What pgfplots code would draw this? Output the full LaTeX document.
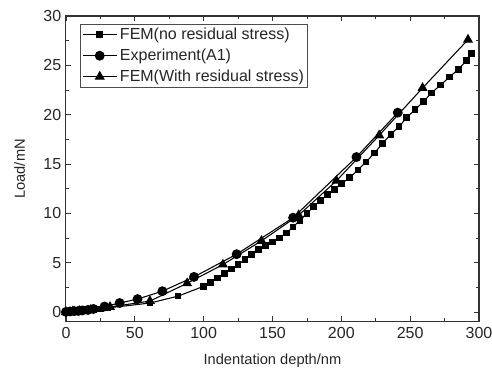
\documentclass[border=0pt]{standalone}
\usepackage{pgfplots}
\pgfplotsset{compat=1.18}
\usepackage{fontspec}
\setmainfont{Liberation Sans}
\begin{document}
\begin{tikzpicture}
\begin{axis}[
  scale only axis,
  at={(0,0)}, anchor=south west,
  width=310pt, height=229.5pt,
  xmin=0, xmax=300, ymin=-1, ymax=30,
  xtick={0,50,...,300}, ytick={0,5,...,30},
  minor x tick num=1, minor y tick num=1,
  major tick length=4pt, minor tick length=2.5pt,
  tick align=inside,
  /pgf/number format/assume math mode=true,
  ticklabel style={font=\fontsize{12}{14}\selectfont, text=black!85},
  xticklabel style={yshift=-1pt},
  xlabel={Indentation depth/nm}, ylabel={Load/mN},
  label style={font=\fontsize{11}{13}\selectfont, text=black!85},
  xlabel style={yshift=-4pt},
  ylabel style={yshift=7pt},
  axis line style={black!80, line width=0.8pt},
  every tick/.style={black!80, line width=0.6pt},
  legend style={at={(0.035,0.975)}, anchor=north west, draw=black!70, line width=0.6pt,
    font=\fontsize{12}{14}\selectfont, row sep=1.5pt, inner sep=1pt, text=black!85},
  legend cell align=left,
  legend image code/.code={\draw[mark repeat=2,mark phase=2,#1] plot coordinates {(0cm,0cm) (0.45cm,0cm) (0.9cm,0cm)};},
]
\addplot[black, line width=0.8pt, mark=square*, mark size=2.1pt] coordinates {
(0,0) (2,0.02) (4,0.04) (6,0.06) (8,0.08) (10,0.1) (13,0.13) (16,0.17) (20,0.22) (25,0.3) (30,0.4)
(61,0.9) (81.5,1.6) (100,2.6) (105,3.0) (110,3.45) (115,3.9) (120,4.35) (125,4.8) (130,5.3)
(135,5.8) (140,6.3) (145,6.7) (150,7.1) (155,7.5) (160,8.0) (165,8.6) (170,9.3) (175,10.0)
(180,10.7) (185,11.3) (190,11.9) (195,12.4) (200,13.0) (206,13.6) (212,14.4) (218,15.2)
(224,16.1) (230,17.1) (236,18.0) (242,18.8) (247.5,19.7) (253.5,20.5) (259.5,21.3)
(265.5,22.2) (272,23.0) (278.5,23.8) (285,24.6) (291,25.5) (294.5,26.2)
};
\addlegendentry{FEM(no residual stress)}
\addplot[black, line width=0.8pt, mark=*, mark size=3.3pt] coordinates {
(0,0) (3,0.05) (6,0.08) (9,0.1) (12,0.15) (16,0.2) (20,0.3) (28,0.55) (39,0.9) (52,1.3)
(70,2.1) (93,3.55) (124,5.85) (165,9.55) (211,15.7) (241,20.2)
};
\addlegendentry{Experiment(A1)}
\addplot[black, line width=0.8pt, mark=triangle*, mark size=3.6pt] coordinates {
(0,0) (5,0.05) (10,0.1) (18,0.2) (32,0.5) (61,1.1) (88,2.9) (114,4.8) (142,7.2) (169,9.8)
(196.5,13.3) (227.5,17.9) (259,22.7) (292,27.6)
};
\addlegendentry{FEM(With residual stress)}
\end{axis}
\pgfresetboundingbox
\useasboundingbox (-49.5pt,-36pt) rectangle (319.75pt,241.5pt);
\end{tikzpicture}
\end{document}
